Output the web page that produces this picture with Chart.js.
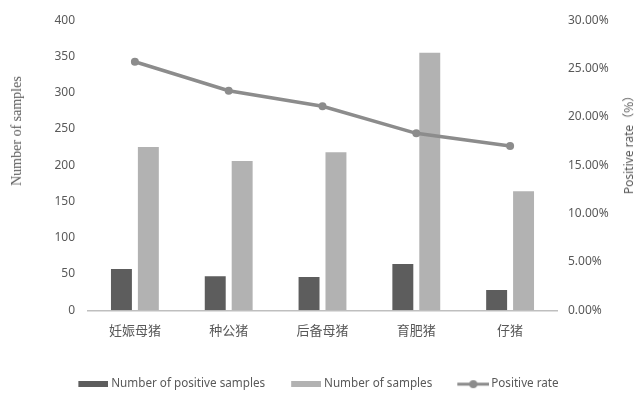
<!DOCTYPE html>
<html>
<head>
<meta charset="utf-8">
<script src="https://cdn.jsdelivr.net/npm/chart.js@4/dist/chart.umd.min.js"></script>
<style>
  html, body { margin: 0; padding: 0; background: #fff; }
  #wrap { position: relative; width: 634px; height: 394px; overflow: hidden; }
  #c { position: absolute; left: 0; top: 0; }
  .ytitle { position: absolute; white-space: nowrap; color: #595959; transform-origin: center center; }
  #tl { font-family: "Liberation Serif", "DejaVu Serif", serif; font-size: 14px; left: 17px; top: 131px; transform: translate(-50%, -50%) rotate(-90deg); }
  #tr { font-family: "Noto Sans", "Noto Sans CJK SC", sans-serif; font-size: 12px; left: 628px; top: 142px; transform: translate(-50%, -50%) rotate(-90deg); }
</style>
</head>
<body>
<div id="wrap">
  <canvas id="c" width="634" height="394"></canvas>
  <div class="ytitle" id="tl">Number of samples</div>
  <div class="ytitle" id="tr">Positive rate<span style="font-family:'Noto Sans CJK SC'">（%）</span></div>
</div>
<script>
const categories = ["妊娠母猪", "种公猪", "后备母猪", "育肥猪", "仔猪"];
const positiveSamples = [57, 47, 46, 64, 28];
const totalSamples = [225, 206, 218, 355, 164];
const positiveRate = [25.7, 22.7, 21.1, 18.3, 17.0];
const seriesNames = ["Number of positive samples", "Number of samples", "Positive rate"];
const leftTicks = [0, 50, 100, 150, 200, 250, 300, 350, 400];
const rightTicks = [0, 5, 10, 15, 20, 25, 30];

const DARK = "#5d5d5d", LIGHT = "#b2b2b2", LINE = "#8c8c8c", TXT = "#595959";

// legend icons: drawn shifted right inside a wider canvas so the gap to the text is small
function rectIcon(color) {
  const c = document.createElement("canvas");
  c.width = 36; c.height = 6;
  const x = c.getContext("2d");
  x.fillStyle = color; x.fillRect(6, 0, 30, 6);
  return c;
}
function lineIcon(color) {
  const c = document.createElement("canvas");
  c.width = 38; c.height = 10;
  const x = c.getContext("2d");
  x.strokeStyle = color; x.lineWidth = 3;
  x.beginPath(); x.moveTo(6, 5); x.lineTo(38, 5); x.stroke();
  x.fillStyle = color; x.beginPath(); x.arc(22, 5, 4, 0, Math.PI * 2); x.fill();
  return c;
}
const icons = [rectIcon(DARK), rectIcon(LIGHT), lineIcon(LINE)];

new Chart(document.getElementById("c"), {
  data: {
    labels: categories,
    datasets: [
      { type: "bar", label: seriesNames[0], data: positiveSamples, backgroundColor: DARK, yAxisID: "y", order: 1,
        categoryPercentage: 0.574, barPercentage: 0.778 },
      { type: "bar", label: seriesNames[1], data: totalSamples, backgroundColor: LIGHT, yAxisID: "y", order: 1,
        categoryPercentage: 0.574, barPercentage: 0.778 },
      { type: "line", label: seriesNames[2], data: positiveRate, borderColor: LINE, backgroundColor: LINE,
        borderWidth: 3.5, pointRadius: 4, pointBackgroundColor: LINE, pointBorderWidth: 0, yAxisID: "y1", order: 0,
        tension: 0 }
    ]
  },
  options: {
    responsive: false,
    animation: false,
    devicePixelRatio: 1,
    layout: { padding: { top: 19, left: 0, right: 0, bottom: -6 } },
    plugins: {
      tooltip: { enabled: false },
      legend: {
        position: "bottom",
        labels: {
          usePointStyle: true,
          pointStyleWidth: 30,
          padding: 23,
          color: TXT,
          font: { family: "'Noto Sans', sans-serif", size: 11.7 },
          sort: (a, b) => a.datasetIndex - b.datasetIndex,
          generateLabels: (chart) => chart.data.datasets.map((d, i) => ({
            text: d.label, datasetIndex: i, pointStyle: icons[i], fillStyle: "transparent",
            strokeStyle: "transparent", lineWidth: 0, fontColor: TXT, hidden: false
          }))
        }
      }
    },
    scales: {
      x: {
        grid: { display: false, drawTicks: false },
        border: { display: true, color: "#bfbfbf", width: 1.5 },
        ticks: { color: TXT, padding: 12, font: { family: "'Noto Sans CJK SC', sans-serif", size: 13 } },
        afterFit: (s) => { s.height = 45; }
      },
      y: {
        position: "left", min: 0, max: 400,
        afterBuildTicks: (s) => { s.ticks = leftTicks.map(v => ({ value: v })); },
        grid: { display: false, drawTicks: false },
        border: { display: false },
        ticks: { color: TXT, padding: 13, font: { family: "'Noto Sans', sans-serif", size: 12 } },
        afterFit: (s) => { s.width = 88; }
      },
      y1: {
        position: "right", min: 0, max: 30,
        afterBuildTicks: (s) => { s.ticks = rightTicks.map(v => ({ value: v })); },
        grid: { display: false, drawTicks: false },
        border: { display: false },
        ticks: { color: TXT, padding: 11, font: { family: "'Noto Sans', sans-serif", size: 12 },
          callback: (v) => Number(v).toFixed(2) + "%" },
        afterFit: (s) => { s.width = 77; }
      }
    }
  }
});
</script>
</body>
</html>
